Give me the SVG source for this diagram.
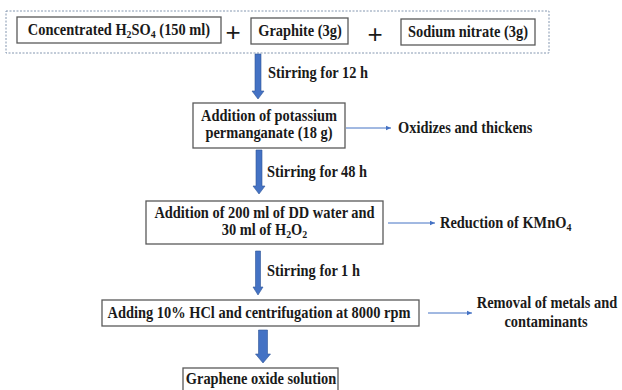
<svg xmlns="http://www.w3.org/2000/svg" width="622" height="390" viewBox="0 0 622 390">
<style>
text{font-family:"Liberation Serif","Times New Roman",serif;font-weight:bold;font-size:16px;fill:#1a1a1a;transform-box:fill-box;transform:scaleX(0.9)}
.c{text-anchor:middle;transform-origin:center}
.l{transform-origin:left center}
.box{fill:#fff;stroke:#595959;stroke-width:1.3}
.plus{font-family:"Liberation Sans",Arial,sans-serif;font-weight:normal;font-size:26px;transform:none}
.thick{fill:#4472C4;stroke:#2F5597;stroke-width:0.6}
.thin{stroke:#4472C4;stroke-width:1;fill:none;marker-end:url(#ah)}
.sub{font-size:11px}
</style>
<defs>
<marker id="ah" markerWidth="6" markerHeight="6" refX="5" refY="3" orient="auto" markerUnits="userSpaceOnUse">
<path d="M0,0.8 L5,3 L0,5.2 Z" fill="#4472C4"/>
</marker>
</defs>
<rect width="622" height="390" fill="#fff"/>
<g id="inputs">
<rect x="6" y="11" width="543" height="42" fill="none" stroke="#8497B0" stroke-width="1" stroke-dasharray="2,1.5"/>
<g id="acid"><rect class="box" x="17" y="17" width="204" height="26"/><text class="c" x="119" y="35">Concentrated H<tspan class="sub" dy="3">2</tspan><tspan dy="-3">SO</tspan><tspan class="sub" dy="3">4</tspan><tspan dy="-3"> (150 ml)</tspan></text></g>
<text class="plus c" x="233" y="41">+</text>
<g id="graphite"><rect class="box" x="251" y="18" width="97" height="26"/><text class="c" x="300" y="36">Graphite (3g)</text></g>
<text class="plus c" x="375" y="43">+</text>
<g id="nitrate"><rect class="box" x="401" y="19" width="134" height="26"/><text class="c" x="468" y="37">Sodium nitrate (3g)</text></g>
</g>
<g id="kmno4"><rect class="box" x="193" y="103" width="152" height="45"/><text class="c" x="269" y="121">Addition of potassium</text><text class="c" x="269" y="138">permanganate (18 g)</text></g>
<g id="water"><rect class="box" x="146" y="201" width="237" height="43"/><text class="c" x="264.5" y="218">Addition of 200 ml of DD water and</text><text class="c" x="264.5" y="235">30 ml of H<tspan class="sub" dy="3">2</tspan><tspan dy="-3">O</tspan><tspan class="sub" dy="3">2</tspan></text></g>
<g id="hcl"><rect class="box" x="102" y="300" width="317" height="26"/><text class="c" x="259" y="318">Adding 10% HCl and centrifugation at 8000 rpm</text></g>
<g id="go"><rect class="box" x="183" y="368" width="155" height="32"/><text class="c" x="261" y="384">Graphene oxide solution</text></g>
<g id="notes">
<text class="l" x="398" y="133">Oxidizes and thickens</text>
<text class="l" x="440" y="228">Reduction of KMnO<tspan class="sub" dy="3">4</tspan></text>
<text class="c" x="547" y="308">Removal of metals and</text>
<text class="c" x="546" y="327">contaminants</text>
</g>
<g id="connectors">
<path class="thick" d="M255,54 H261 V91 H264 L258,99 L252,91 H255 Z"/>
<path class="thick" d="M256,150 H262 V186 H265 L259,194 L253,186 H256 Z"/>
<path class="thick" d="M255.5,251 H260.5 V287 H263 L258,295 L253,287 H255.5 Z"/>
<path class="thick" d="M258.5,330 H267.5 V354 H270.5 L263,363 L255.5,354 H258.5 Z"/>
<line class="thin" x1="346" y1="128" x2="391" y2="128"/>
<line class="thin" x1="388" y1="223" x2="435" y2="223"/>
<line class="thin" x1="428" y1="313" x2="472" y2="313"/>
<text class="l" x="268" y="78">Stirring for 12 h</text>
<text class="l" x="267" y="177">Stirring for 48 h</text>
<text class="l" x="267" y="276">Stirring for 1 h</text>
</g>
</svg>
